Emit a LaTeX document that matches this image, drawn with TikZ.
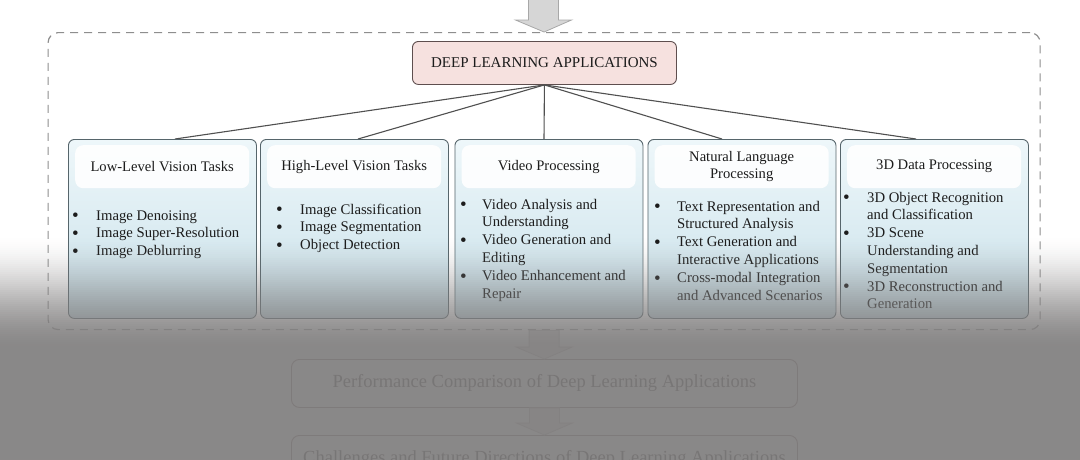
\documentclass[tikz,border=0pt]{standalone}
\usepackage{fontspec}
\setmainfont{Liberation Serif}
\usetikzlibrary{calc}
\definecolor{boxline}{HTML}{56656B}
\definecolor{boxtop}{HTML}{EEF7FA}
\definecolor{boxbot}{HTML}{C9E1EA}
\definecolor{rootfill}{HTML}{F6E1DF}
\definecolor{rootline}{HTML}{5E4E4E}
\definecolor{dashc}{HTML}{8E8E8E}
\definecolor{connc}{HTML}{505050}
\definecolor{arrfill}{HTML}{D6D6D6}
\definecolor{arrline}{HTML}{A8A8A8}
\definecolor{txt}{HTML}{1C1C1C}
\definecolor{fogc}{RGB}{129,127,127}
\newcommand\blockarr[2]{%
  \draw[blockarrow] let \p1=(#1), \p2=(#2) in
    (\x1-15pt,\y1) -- (\x1+15pt,\y1) -- (\x1+15pt,\y2+12pt) -- (\x1+28pt,\y2+12pt)
    -- (\x2,\y2) -- (\x1-28pt,\y2+12pt) -- (\x1-15pt,\y2+12pt) -- cycle;}
\tikzset{
  catbox/.style={draw=boxline, line width=0.9pt, rounded corners=6pt, top color=boxtop, bottom color=boxbot,
    minimum width=188pt, minimum height=179pt, anchor=north west, inner sep=0pt},
  hdr/.style={fill=white, fill opacity=0.9, text opacity=1, rounded corners=8pt, minimum width=174pt,
    minimum height=43pt, anchor=north west, inner sep=0pt, align=center, text=txt,
    font=\fontsize{14.6}{17}\selectfont},
  items/.style={anchor=base west, inner sep=0pt, text=txt, font=\fontsize{14.7}{17.8}\selectfont},
  rootbox/.style={draw=rootline, line width=0.9pt, fill=rootfill, rounded corners=6pt, minimum width=264pt,
    minimum height=43pt, anchor=north west, inner sep=0pt, text=txt, font=\fontsize{15}{17}\selectfont},
  container/.style={draw=dashc, line width=1.2pt, dash pattern=on 8pt off 6pt, rounded corners=10pt,
    minimum width=992pt, minimum height=297pt, anchor=north west, inner sep=0pt},
  flowbox/.style={draw=rootline, line width=0.9pt, fill=white, rounded corners=8pt, minimum width=506pt,
    minimum height=48pt, anchor=north west, inner sep=0pt, text=black, font=\fontsize{18.5}{20}\selectfont},
  conn/.style={draw=connc, line width=1.1pt},
  blockarrow/.style={fill=arrfill, draw=arrline, line width=0.8pt, line join=miter},
}
\newcommand\bl{\raisebox{-1.8pt}{\fontsize{19}{19}\selectfont\textbullet}}
\begin{document}
\begin{tikzpicture}[x=1pt,y=-1pt]
\useasboundingbox (0,0) rectangle (1080,459);
\clip (0,0) rectangle (1080,459);
\fill[white] (0,0) rectangle (1080,459);

% container and root
\node[container] (cont) at (47.5,32) {};
\node[rootbox] (root) at (412,41) {DEEP LEARNING APPLICATIONS};

% connector end points
\coordinate (t1) at (175,139);
\coordinate (t2) at (358,139);
\coordinate (t3) at (544,139);
\coordinate (t4) at (722,139);
\coordinate (t5) at (916,139);
\foreach \t in {t1,t2,t3,t4,t5} \draw[conn] (root.south) -- (\t);

% category boxes
\node[catbox] (b1) at (68,139) {};
\node[catbox] (b2) at (260,139) {};
\node[catbox] (b3) at (454.5,139) {};
\node[catbox] (b4) at (647.5,139) {};
\node[catbox] (b5) at (840,139) {};

\node[hdr] (h1) at (75,145) {Low-Level Vision Tasks};
\node[hdr] (h2) at (267,145) {High-Level Vision Tasks};
\node[hdr] (h3) at (461.5,145) {Video Processing};
\node[hdr] (h4) at (654.5,145) {Natural Language\\Processing};
\node[hdr] (h5) at (847,145) {3D Data Processing};

\node[items] (l1) at (72,220) {\begin{tabular}[t]{@{}p{24pt}@{}l@{}}
\bl & Image Denoising\\
\bl & Image Super-Resolution\\
\bl & Image Deblurring
\end{tabular}};
\node[items] (l2) at (276,214) {\begin{tabular}[t]{@{}p{24pt}@{}l@{}}
\bl & Image Classification\\
\bl & Image Segmentation\\
\bl & Object Detection
\end{tabular}};
\node[items] (l3) at (460,209) {\begin{tabular}[t]{@{}p{22pt}@{}l@{}}
\bl & Video Analysis and\\
    & Understanding\\
\bl & Video Generation and\\
    & Editing\\
\bl & Video Enhancement and\\
    & Repair
\end{tabular}};
\node[items] (l4) at (654,211) {\begin{tabular}[t]{@{}p{23pt}@{}l@{}}
\bl & Text Representation and\\
    & Structured Analysis\\
\bl & Text Generation and\\
    & Interactive Applications\\
\bl & Cross-modal Integration\\
    & and Advanced Scenarios
\end{tabular}};
\node[items] (l5) at (843,202) {\begin{tabular}[t]{@{}p{24pt}@{}l@{}}
\bl & 3D Object Recognition\\
    & and Classification\\
\bl & 3D Scene\\
    & Understanding and\\
    & Segmentation\\
\bl & 3D Reconstruction and\\
    & Generation
\end{tabular}};

% flow below
\node[flowbox] (perf) at (291,359) {Performance Comparison of Deep Learning Applications};
\node[flowbox] (chal) at (291,435) {Challenges and Future Directions of Deep Learning Applications};

% block arrows
\coordinate (in) at (543.5,-3);
\blockarr{in}{cont.north}
\blockarr{cont.south}{perf.north}
\blockarr{perf.south}{chal.north}

% fog overlay (smooth ramp)
\foreach \i in {0,...,57} {
  \pgfmathsetmacro\tt{(\i+0.5)/58}
  \pgfmathsetmacro\op{0.93*(3*\tt*\tt-2*\tt*\tt*\tt)}
  \fill[fogc, opacity=\op] (0,234+2*\i) rectangle (1080,236+2*\i);
}
\fill[fogc, opacity=0.93] (0,350) rectangle (1080,460);
\end{tikzpicture}
\end{document}
